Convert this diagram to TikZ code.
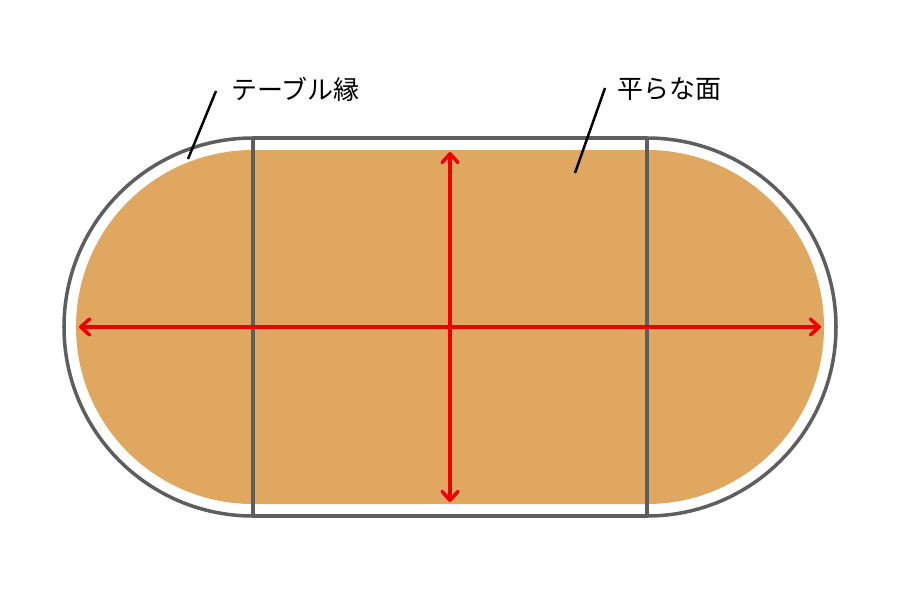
\documentclass[tikz,border=0pt]{standalone}
\usepackage{fontspec}
\newfontfamily\jpfont{Noto Sans CJK JP}
\usetikzlibrary{arrows.meta}

\definecolor{faceorange}{RGB}{223,167,96}
\definecolor{rimgray}{RGB}{94,94,94}
\definecolor{measred}{RGB}{238,0,0}

\begin{document}
\begin{tikzpicture}[x=0.02cm, y=0.02cm,
	rim/.style={draw=rimgray, line width=2pt},
	measure/.style={draw=measred, line width=2pt, {Straight Barb[length=5pt,width=9pt,round]}-{Straight Barb[length=5pt,width=9pt,round]}},
	leader/.style={draw=black, line width=1.4pt},
	lbl/.style={anchor=west, inner sep=0pt, font=\jpfont\fontsize{14.8pt}{16pt}\selectfont}]

	\useasboundingbox (0,0) rectangle (900,600);

	% draw flat face
	\fill[faceorange] (253,450) -- (647,450) arc[start angle=90, end angle=-90, radius=177]
		-- (253,96) arc[start angle=270, end angle=90, radius=177] -- cycle;

	% draw table rim
	\draw[rim] (253,462) -- (647,462) arc[start angle=90, end angle=-90, radius=189]
		-- (253,84) arc[start angle=270, end angle=90, radius=189] -- cycle;
	\foreach \x in {253,647}
	{
		\draw[rim] (\x,462) -- (\x,84);
	}

	% draw measures
	\coordinate (m_l) at (79,273);
	\coordinate (m_r) at (821,273);
	\coordinate (m_t) at (450,448);
	\coordinate (m_b) at (450,98);
	\draw[measure] (m_l) -- (m_r);
	\draw[measure] (m_t) -- (m_b);

	% draw labels
	\node[lbl] (l_rim) at (231,511) {テーブル縁};
	\node[lbl] (l_face) at (617,511) {平らな面};
	\coordinate (r_0) at (216,509);
	\coordinate (r_1) at (188,441);
	\coordinate (f_0) at (605,512);
	\coordinate (f_1) at (575,427);
	\draw[leader] (r_0) -- (r_1);
	\draw[leader] (f_0) -- (f_1);

\end{tikzpicture}
\end{document}
